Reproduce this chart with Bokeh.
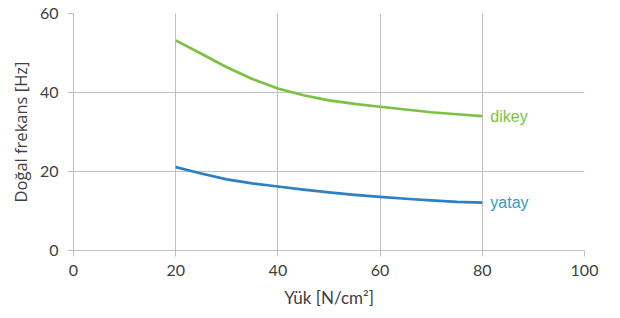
from bokeh.plotting import figure
from bokeh.models import Range1d, FixedTicker, ColumnDataSource
from bokeh.core.properties import value
from bokeh.embed import file_html
from bokeh.resources import INLINE

yuk = [20, 25, 30, 35, 40, 45, 50, 55, 60, 65, 70, 75, 80]
dikey = [53.2, 49.8, 46.4, 43.4, 41.0, 39.3, 38.0, 37.1, 36.4, 35.7, 35.0, 34.5, 34.0]
yatay = [21.1, 19.5, 18.0, 17.0, 16.2, 15.4, 14.7, 14.1, 13.6, 13.1, 12.7, 12.3, 12.1]
series_names = ["dikey", "yatay"]
x_ticks = [0, 20, 40, 60, 80, 100]
y_ticks = [0, 20, 40, 60]

GREEN = "#7cc242"
BLUE = "#2c80c3"
BLUE_TXT = "#3399c6"
GRID = "#bfbfbf"
TXT = "#404040"

p = figure(width=612, height=310, output_backend="svg", toolbar_location=None,
           x_range=Range1d(0, 100), y_range=Range1d(0, 60),
           min_border_left=73, min_border_right=28, min_border_top=13, min_border_bottom=60)
p.outline_line_color = None
p.background_fill_color = "white"
p.border_fill_color = "white"

for ax in (p.xaxis[0], p.yaxis[0]):
    ax.axis_line_color = GRID
    ax.major_tick_line_color = GRID
    ax.major_tick_out = 6
    ax.major_tick_in = 0
    ax.minor_tick_line_color = None
    ax.major_label_text_font = "Lato"
    ax.major_label_text_font_size = "16px"
    ax.major_label_text_color = TXT
    ax.axis_label_text_font_style = "normal"
    ax.axis_label_text_color = TXT
    ax.axis_label_text_font_size = "17px"

p.xaxis[0].ticker = FixedTicker(ticks=x_ticks)
p.yaxis[0].ticker = FixedTicker(ticks=y_ticks)
p.xaxis[0].axis_label = "Yük [N/cm²]"
p.xaxis[0].axis_label_text_font = "Lato"
p.yaxis[0].axis_label = "Doğal frekans [Hz]"
p.yaxis[0].axis_label_text_font = "Open Sans"
p.yaxis[0].axis_label_text_font_size = "16.5px"
p.xaxis[0].major_label_standoff = 8
p.yaxis[0].major_label_standoff = 9
p.xaxis[0].axis_label_standoff = 8
p.yaxis[0].axis_label_standoff = 5

p.xgrid.ticker = FixedTicker(ticks=x_ticks)
p.ygrid.ticker = FixedTicker(ticks=y_ticks)
p.grid.grid_line_color = GRID
p.grid.grid_line_width = 1

p.line(yuk, dikey, line_color=GREEN, line_width=2.7, line_join="round")
p.line(yuk, yatay, line_color=BLUE, line_width=2.7, line_join="round")

src = ColumnDataSource(dict(x=[yuk[-1], yuk[-1]], y=[dikey[-1], yatay[-1]],
                            t=series_names, c=[GREEN, BLUE_TXT]))
p.text(x="x", y="y", text="t", text_color="c", source=src, x_offset=8,
       text_align="left", text_baseline="middle", text_font=value("Liberation Sans"),
       text_font_size="16px")

open("out.html", "w").write(file_html(p, INLINE))
